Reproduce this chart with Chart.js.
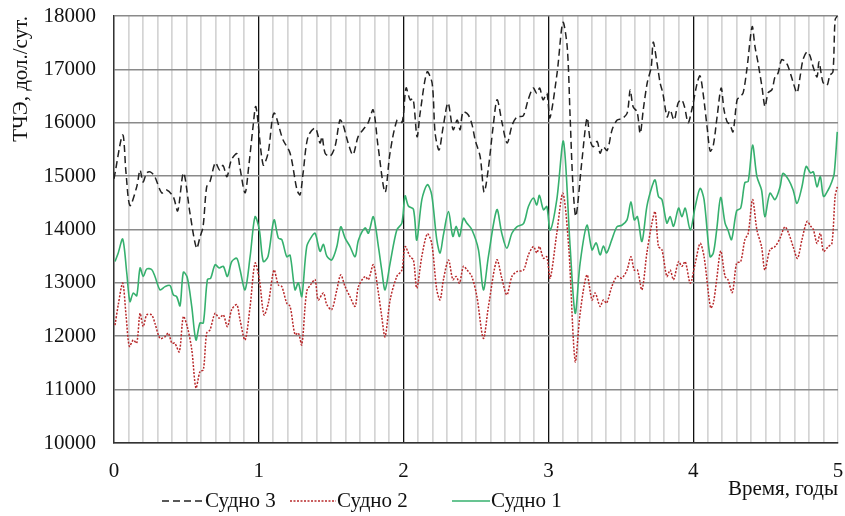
<!DOCTYPE html>
<html>
<head>
<meta charset="utf-8">
<script src="https://cdn.jsdelivr.net/npm/chart.js@4.4.1/dist/chart.umd.min.js"></script>
<style>
  body { margin: 0; background: #fff; }
  #wrap { position: relative; width: 845px; height: 516px; }
  .item { position: absolute; top: 488px; display: flex; align-items: center; white-space: nowrap;
          font: 21px "Liberation Serif", "Times New Roman", serif; color: #111; }
  .item svg { margin-right: 1px; }
</style>
</head>
<body>
<div id="wrap">
  <canvas id="chart"></canvas>
  <div class="item" style="left:162px"><svg width="42" height="10"><line x1="0" y1="5" x2="42" y2="5" stroke="#222" stroke-width="1.5" stroke-dasharray="7,4"/></svg>Судно 3</div>
  <div class="item" style="left:290px"><svg width="46" height="10"><line x1="0" y1="5" x2="46" y2="5" stroke="#b8282a" stroke-width="1.5" stroke-dasharray="2,1.5"/></svg>Судно 2</div>
  <div class="item" style="left:452px"><svg width="38" height="10"><line x1="0" y1="5" x2="38" y2="5" stroke="#36b06e" stroke-width="1.6"/></svg>Судно 1</div>
</div>
<script>
// time, years
const t3 = [0.000,0.060,0.083,0.110,0.157,0.180,0.200,0.226,0.250,0.280,0.330,0.364,0.410,0.440,0.480,0.525,0.570,0.594,0.615,0.640,
  0.663,0.700,0.730,0.753,0.780,0.810,0.850,0.870,0.905,0.930,0.960,0.980,1.030,1.064,1.105,1.167,1.216,1.264,1.285,1.306,
  1.340,1.390,1.423,1.437,1.458,1.492,1.527,1.560,1.580,1.617,1.650,1.686,1.720,1.755,1.790,1.824,1.872,1.906,1.955,1.990,
  2.017,2.045,2.066,2.093,2.114,2.162,2.197,2.218,2.245,2.273,2.307,2.342,2.370,2.390,2.410,2.446,2.473,2.494,2.529,2.556,
  2.584,2.618,2.646,2.680,2.715,2.750,2.784,2.826,2.860,2.895,2.920,2.940,2.963,2.990,3.010,3.060,3.100,3.130,3.150,3.170,
  3.190,3.230,3.267,3.288,3.309,3.337,3.357,3.378,3.406,3.440,3.475,3.510,3.544,3.565,3.585,3.613,3.634,3.655,3.682,3.710,
  3.724,3.750,3.772,3.790,3.820,3.840,3.868,3.896,3.920,3.940,3.965,3.990,4.027,4.047,4.068,4.096,4.117,4.137,4.165,4.193,
  4.213,4.234,4.255,4.275,4.303,4.324,4.345,4.372,4.407,4.427,4.448,4.475,4.496,4.517,4.544,4.565,4.586,4.610,4.634,4.655,
  4.690,4.717,4.738,4.758,4.786,4.806,4.827,4.855,4.869,4.896,4.924,4.944,4.965,4.980,4.995];
const ship3 = [14950,15770,15060,14450,14800,15115,14890,15060,15080,15000,14685,14740,14610,14350,15060,14300,13650,13860,14050,14800,
  14900,15250,15115,15200,14990,15300,15420,15150,14685,15170,15920,16300,15210,15430,16180,15680,15430,14740,14650,15060,
  15740,15900,15620,15740,15430,15370,15560,16050,15980,15620,15400,15740,15870,16000,16240,15550,14700,15430,16050,16010,
  16650,16430,16450,15740,16180,16950,16740,15800,15490,15920,16370,15870,16050,15870,16200,16150,15960,15680,15360,14700,
  15115,15920,16430,16000,15620,15960,16110,16130,16430,16650,16550,16650,16430,16550,16090,16930,17880,17420,16110,14800,
  14250,15250,16090,15680,15550,15650,15430,15550,15480,15870,16050,16080,16180,16615,16300,16200,15800,16240,16740,17045,
  17510,17120,16740,16560,16110,16240,16050,16370,16430,16300,16000,16240,16740,16880,16560,15920,15470,15550,16110,16650,
  16240,16020,15960,15830,16430,16490,16560,17030,17800,17420,17120,16670,16300,16560,16620,16860,16930,17180,17150,17060,
  16760,16560,16860,17180,17330,17260,17060,16860,17140,16760,16700,16890,16950,17930,18000];

const t2 = [0.007,0.030,0.060,0.083,0.106,0.133,0.157,0.180,0.202,0.226,0.260,0.283,0.318,0.352,0.375,0.400,0.420,0.451,0.479,0.506,
  0.537,0.566,0.594,0.617,0.640,0.663,0.698,0.727,0.755,0.783,0.813,0.848,0.870,0.905,0.940,0.974,1.004,1.036,1.066,1.105,
  1.135,1.159,1.193,1.216,1.250,1.273,1.297,1.331,1.366,1.389,1.410,1.446,1.470,1.504,1.539,1.566,1.596,1.630,1.665,1.688,
  1.734,1.757,1.791,1.826,1.849,1.872,1.907,1.953,1.988,2.010,2.045,2.068,2.091,2.126,2.164,2.194,2.229,2.252,2.275,2.310,
  2.340,2.363,2.386,2.413,2.436,2.471,2.506,2.551,2.586,2.644,2.678,2.713,2.748,2.782,2.828,2.862,2.897,2.920,2.938,2.966,
  2.989,3.012,3.058,3.100,3.140,3.185,3.219,3.266,3.301,3.323,3.357,3.380,3.402,3.438,3.473,3.507,3.543,3.570,3.593,3.615,
  3.646,3.680,3.715,3.737,3.760,3.784,3.818,3.841,3.864,3.899,3.922,3.945,3.980,4.014,4.048,4.075,4.120,4.139,4.162,4.190,
  4.220,4.240,4.270,4.300,4.328,4.357,4.380,4.410,4.440,4.472,4.495,4.530,4.565,4.600,4.633,4.659,4.690,4.720,4.751,4.786,
  4.812,4.830,4.855,4.878,4.900,4.932,4.958,4.980,4.995];
const ship2 = [12210,12600,12995,12400,11810,11930,11870,12430,12180,12400,12400,12240,11960,11990,12060,11870,11870,11710,12370,12180,
  11750,11030,11340,11370,12060,12120,12430,12340,12400,12180,12500,12590,12310,11930,12560,13370,13060,12400,12620,13240,
  12960,12930,12620,12560,12030,12060,11840,12840,12995,13060,12680,12810,12590,12500,12870,13150,12930,12740,12560,12930,
  13120,13060,13340,12810,12370,11990,12680,13120,13240,13680,13490,13430,12900,13500,13920,13740,12870,12680,13060,13430,
  13060,13120,12995,13310,13250,13120,12745,11960,12560,13430,13090,12775,13120,13210,13240,13525,13680,13560,13680,13460,
  13490,13090,13930,14680,13680,11530,12430,13150,12680,12810,12560,12680,12620,12930,13120,13090,13240,13490,13240,13240,
  12870,13560,14120,14335,13680,13620,13120,13240,13060,13400,13310,13400,12995,13370,13740,13490,12530,12620,13060,13600,
  13120,13060,12820,13370,13400,13810,13930,14560,13990,13680,13240,13620,13680,13840,14050,13930,13680,13460,13810,14150,
  14060,14000,13740,13930,13590,13680,13740,14620,14800];

const t1 = [0.007,0.028,0.060,0.088,0.110,0.133,0.157,0.180,0.202,0.226,0.260,0.283,0.318,0.352,0.387,0.410,0.433,0.456,0.479,0.506,
  0.537,0.566,0.594,0.617,0.645,0.668,0.698,0.727,0.755,0.783,0.813,0.848,0.870,0.905,0.940,0.974,1.004,1.031,1.064,1.105,
  1.135,1.159,1.193,1.216,1.250,1.273,1.297,1.331,1.366,1.389,1.423,1.446,1.470,1.504,1.539,1.566,1.596,1.630,1.665,1.688,
  1.734,1.757,1.791,1.826,1.849,1.872,1.907,1.953,1.988,2.010,2.033,2.068,2.091,2.126,2.164,2.194,2.229,2.252,2.275,2.310,
  2.340,2.363,2.386,2.413,2.436,2.471,2.517,2.551,2.586,2.644,2.678,2.713,2.748,2.782,2.828,2.862,2.897,2.920,2.938,2.966,
  2.989,3.012,3.058,3.104,3.150,3.185,3.219,3.266,3.301,3.330,3.357,3.380,3.402,3.438,3.473,3.507,3.543,3.570,3.593,3.615,
  3.646,3.680,3.715,3.737,3.760,3.784,3.818,3.841,3.864,3.899,3.922,3.945,3.980,4.014,4.048,4.075,4.116,4.139,4.162,4.190,
  4.220,4.240,4.265,4.300,4.328,4.357,4.380,4.410,4.440,4.472,4.495,4.530,4.565,4.600,4.620,4.659,4.690,4.717,4.751,4.780,
  4.810,4.830,4.855,4.878,4.900,4.932,4.958,4.974,4.995];
const ship1 = [13400,13550,13820,13190,12650,12810,12760,13280,13120,13260,13250,13120,12870,12930,12950,12775,12740,12570,13200,13100,
  12555,11930,12250,12250,13060,13090,13340,13280,13310,13120,13400,13460,13250,12870,13490,14240,13990,13400,13500,14180,
  13840,13810,13490,13520,12870,13000,12745,13680,13870,13930,13590,13720,13500,13430,13680,14050,13840,13680,13490,13800,
  14030,13930,14240,13680,13240,12870,13370,13990,14120,14630,14440,14380,13800,14560,14840,14650,13810,13560,13900,14335,
  13870,14060,13870,14210,14120,14000,13620,12870,13500,14370,13930,13650,13930,14050,14110,14430,14590,14460,14640,14370,
  14430,13990,14560,15650,13680,12430,13370,14080,13620,13750,13525,13690,13560,13810,14050,14080,14180,14520,14180,14240,
  13775,14430,14800,14930,14620,14560,14120,14240,14060,14400,14240,14400,13990,14430,14770,14560,13490,13560,13990,14600,
  14120,13990,13810,14350,14400,14880,14900,15580,14990,14740,14240,14680,14560,14800,15050,14930,14740,14490,14800,15180,
  15060,15080,14800,14990,14620,14740,14900,15050,15830];

const yTicks = [10000, 11000, 12000, 13000, 14000, 15000, 16000, 17000, 18000];
const xLabels = [0, 1, 2, 3, 4, 5];

const serif = '"Liberation Serif", "Times New Roman", serif';

function pairs(ts, vs) {
    return ts.map((t, i) => ({ x: t, y: vs[i] }));
}

function isYear(v) {
    return Math.abs(v - Math.round(v)) < 1e-6;
}

new Chart(document.getElementById('chart'), {
    type: 'line',
    data: {
        datasets: [
            { label: 'Судно 3', data: pairs(t3, ship3), borderColor: '#222', borderWidth: 1.5, borderDash: [7, 4] },
            { label: 'Судно 2', data: pairs(t2, ship2), borderColor: '#b8282a', borderWidth: 1.5, borderDash: [2, 1.5] },
            { label: 'Судно 1', data: pairs(t1, ship1), borderColor: '#36b06e', borderWidth: 1.6 }
        ]
    },
    options: {
        responsive: true,
        maintainAspectRatio: false,
        animation: false,
        layout: { padding: { left: 4, right: 7, top: 16, bottom: 14 } },
        elements: {
            point: { radius: 0 },
            line: { tension: 0.3, fill: false }
        },
        plugins: {
            legend: { display: false },
            tooltip: { enabled: false }
        },
        scales: {
            x: {
                type: 'linear',
                min: 0,
                max: 5,
                afterFit: axis => {
                    axis.height = 59;
                    axis.paddingLeft = 0;
                    axis.paddingRight = 0;
                },
                ticks: {
                    stepSize: 0.1,
                    autoSkip: false,
                    maxTicksLimit: 100,
                    maxRotation: 0,
                    padding: 16,
                    color: '#111',
                    font: { family: serif, size: 21 },
                    callback: v => (isYear(v) && xLabels.includes(Math.round(v))) ? String(Math.round(v)) : ''
                },
                grid: {
                    drawTicks: false,
                    color: c => (isYear(c.tick.value) && c.tick.value > 0.5 && c.tick.value < 4.5) ? '#111' : '#d4d4d4',
                    lineWidth: c => isYear(c.tick.value) ? 1.3 : 1.7
                },
                border: { color: '#333', width: 1.5 },
                title: {
                    display: true,
                    text: 'Время, годы',
                    align: 'end',
                    color: '#111',
                    font: { family: serif, size: 21 },
                    padding: { top: 0, bottom: 0 }
                }
            },
            y: {
                min: 10000,
                max: 18000,
                afterBuildTicks: axis => { axis.ticks = yTicks.map(v => ({ value: v })); },
                afterFit: axis => {
                    axis.width = 110;
                    axis.paddingTop = 0;
                    axis.paddingBottom = 0;
                },
                ticks: {
                    padding: 18,
                    color: '#111',
                    font: { family: serif, size: 21 },
                    callback: v => String(v)
                },
                grid: { drawTicks: false, color: '#8a8a8a', lineWidth: 1.6 },
                border: { color: '#333', width: 1.5 },
                title: {
                    display: true,
                    text: 'ТЧЭ, дол./сут.',
                    align: 'end',
                    color: '#111',
                    font: { family: serif, size: 21 },
                    padding: { top: 5, bottom: 0 }
                }
            }
        }
    }
});
</script>
</body>
</html>
